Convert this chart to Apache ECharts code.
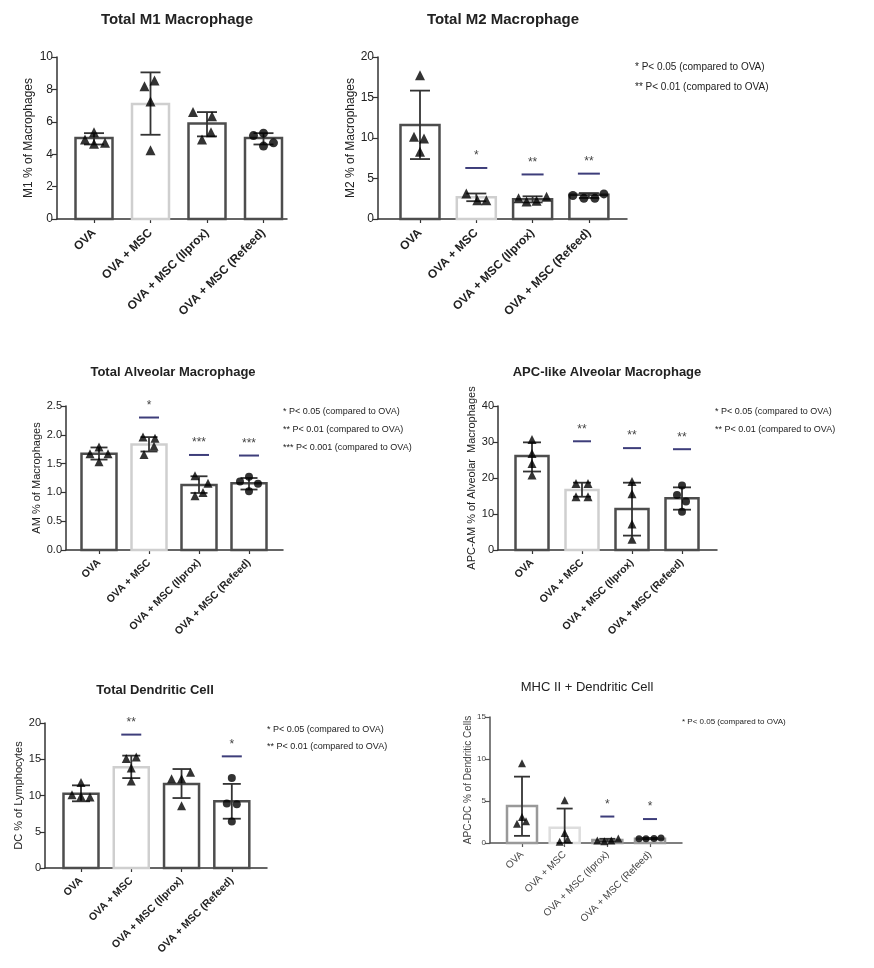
<!DOCTYPE html>
<html><head><meta charset="utf-8">
<script src="https://cdn.jsdelivr.net/npm/echarts@6/dist/echarts.min.js"></script>
<style>html,body{margin:0;padding:0;background:#fff}#c{width:874px;height:968px}</style>
</head><body><div id="c"></div>
<script>
// ---------------- DATA ----------------
const categories = ['OVA', 'OVA + MSC', 'OVA + MSC (Ilprox)', 'OVA + MSC (Refeed)'];

// Panel 1: Total M1 Macrophage
const m1Title = 'Total M1 Macrophage';
const m1YName = 'M1 % of Macrophages';
const m1Ticks = [0, 2, 4, 6, 8, 10];
const m1Bar = [5.0, 7.1, 5.9, 5.0];
const m1Low = [4.6, 5.2, 5.1, 4.6];
const m1High = [5.3, 9.05, 6.6, 5.3];
const m1Points = [[5.35, 4.9, 4.65, 4.7], [8.55, 8.2, 7.25, 4.25], [6.6, 6.35, 5.35, 4.9], [5.15, 5.3, 4.7, 4.5]];
const m1Sig = [null, null, null, null];
const m1SigText = ['', '', '', ''];
const m1Notes = [];

// Panel 2: Total M2 Macrophage
const m2Title = 'Total M2 Macrophage';
const m2YName = 'M2 % of Macrophages';
const m2Ticks = [0, 5, 10, 15, 20];
const m2Bar = [11.6, 2.7, 2.45, 3.0];
const m2Low = [7.4, 2.2, 2.05, 2.6];
const m2High = [15.85, 3.15, 2.8, 3.2];
const m2Points = [[17.75, 10.15, 9.95, 8.3], [3.15, 2.3, 2.3], [2.55, 2.15, 2.25, 2.75], [2.9, 2.55, 2.55, 3.1]];
const m2Sig = [null, 6.3, 5.5, 5.6];
const m2SigText = ['', '*', '**', '**'];
const m2Notes = ['* P< 0.05 (compared to OVA)', '** P< 0.01 (compared to OVA)'];

// Panel 3: Total Alveolar Macrophage
const amTitle = 'Total Alveolar Macrophage';
const amYName = 'AM % of Macrophages';
const amTicks = [0, 0.5, 1.0, 1.5, 2.0, 2.5];
const amBar = [1.67, 1.83, 1.13, 1.16];
const amLow = [1.57, 1.71, 0.99, 1.05];
const amHigh = [1.78, 1.96, 1.28, 1.25];
const amPoints = [[1.79, 1.67, 1.67, 1.53], [1.96, 1.94, 1.8, 1.66], [1.29, 1.16, 1.0, 0.94], [1.19, 1.27, 1.15, 1.02]];
const amSig = [null, 2.3, 1.65, 1.64];
const amSigText = ['', '*', '***', '***'];
const amNotes = ['* P< 0.05 (compared to OVA)', '** P< 0.01 (compared to OVA)', '*** P< 0.001 (compared to OVA)'];

// Panel 4: APC-like Alveolar Macrophage
const apcTitle = 'APC-like Alveolar Macrophage';
const apcYName = 'APC-AM % of Alveolar  Macrophages';
const apcTicks = [0, 10, 20, 30, 40];
const apcBar = [26.1, 16.7, 11.4, 14.4];
const apcLow = [21.8, 14.8, 4.0, 11.2];
const apcHigh = [29.9, 18.7, 18.7, 17.4];
const apcPoints = [[30.7, 26.8, 24.0, 20.8], [18.5, 18.5, 14.8, 14.8], [19.0, 15.6, 7.2, 3.0], [17.9, 15.3, 13.5, 10.6]];
const apcSig = [null, 30.2, 28.3, 28.0];
const apcSigText = ['', '**', '**', '**'];
const apcNotes = ['* P< 0.05 (compared to OVA)', '** P< 0.01 (compared to OVA)'];

// Panel 5: Total Dendritic Cell
const dcTitle = 'Total Dendritic Cell';
const dcYName = 'DC % of Lymphocytes';
const dcTicks = [0, 5, 10, 15, 20];
const dcBar = [10.25, 13.9, 11.6, 9.2];
const dcLow = [9.2, 12.4, 9.65, 6.8];
const dcHigh = [11.4, 15.5, 13.65, 11.6];
const dcPoints = [[11.8, 10.1, 9.9, 9.8], [15.1, 15.3, 13.8, 12.0], [12.3, 12.3, 13.2, 8.6], [12.4, 8.9, 8.8, 6.4]];
const dcSig = [null, 18.4, null, 15.4];
const dcSigText = ['', '**', '', '*'];
const dcNotes = ['* P< 0.05 (compared to OVA)', '** P< 0.01 (compared to OVA)'];

// Panel 6: MHC II + Dendritic Cell
const mhcTitle = 'MHC II + Dendritic Cell';
const mhcYName = 'APC-DC % of Dendritic Cells';
const mhcTicks = [0, 5, 10, 15];
const mhcBar = [4.4, 1.83, 0.35, 0.5];
const mhcLow = [0.85, 0, 0.2, 0.45];
const mhcHigh = [7.9, 4.1, 0.5, 0.6];
const mhcPoints = [[9.5, 3.1, 2.3, 2.6], [5.1, 1.2, 0.15, 0.45], [0.3, 0.2, 0.3, 0.55], [0.5, 0.5, 0.55, 0.6]];
const mhcSig = [null, null, 3.15, 2.85];
const mhcSigText = ['', '', '*', '*'];
const mhcNotes = ['* P< 0.05 (compared to OVA)'];

// ---------------- LAYOUT / STYLE ----------------
const FONT = 'Liberation Sans, Arial, sans-serif';
const DARK = '#4d4d4d', LIGHT = '#cfcfcf';
const panels = [
  { d: {title: m1Title, yName: m1YName, ticks: m1Ticks, bar: m1Bar, low: m1Low, high: m1High, pts: m1Points, sig: m1Sig, sigText: m1SigText, notes: m1Notes},
    L: {left: 57, top: 57, width: 230, height: 162, xMin: -0.655, xMax: 3.416, barW: 37, capW: 20, sigW: 22, sym: 10,
        titleX: 177, titleY: 20, titleSize: 15, titleWeight: 'bold', nameGap: 22, nameSize: 12, tickSize: 12, xFont: 12, xWeight: 'bold', xMargin: 12,
        jitter: [[0, -9, 0, 11], [4, -6, 0, 0], [-14, 5, 4, -5], [-10, 0, 10, 0]], dec: 0,
        barColors: [DARK, LIGHT, DARK, DARK], axis: '#333', text: '#222', notesX: 0, notesY: [], noteSize: 10 } },
  { d: {title: m2Title, yName: m2YName, ticks: m2Ticks, bar: m2Bar, low: m2Low, high: m2High, pts: m2Points, sig: m2Sig, sigText: m2SigText, notes: m2Notes},
    L: {left: 378, top: 57, width: 249, height: 162, xMin: -0.746, xMax: 3.677, barW: 39, capW: 20, sigW: 22, sym: 10,
        titleX: 503, titleY: 20, titleSize: 15, titleWeight: 'bold', nameGap: 18, nameSize: 12, tickSize: 12, xFont: 12, xWeight: 'bold', xMargin: 12,
        jitter: [[0, -6, 4, 0], [-10, 1, 10], [-14, -6, 4, 14], [-16, -5, 6, 15]], dec: 0,
        barColors: [DARK, LIGHT, DARK, DARK], axis: '#333', text: '#222', notesX: 635, notesY: [67, 87], noteSize: 10 } },
  { d: {title: amTitle, yName: amYName, ticks: amTicks, bar: amBar, low: amLow, high: amHigh, pts: amPoints, sig: amSig, sigText: amSigText, notes: amNotes},
    L: {left: 66, top: 406, width: 217, height: 144, xMin: -0.66, xMax: 3.68, barW: 35, capW: 17, sigW: 20, sym: 9,
        titleX: 173, titleY: 372, titleSize: 13, titleWeight: 'bold', nameGap: 22, nameSize: 11, tickSize: 11, xFont: 10.5, xWeight: 'bold', xMargin: 11,
        jitter: [[0, -9, 9, 0], [-6, 6, 5, -5], [-4, 9, 4, -4], [-9, 0, 9, 0]], dec: 1,
        barColors: [DARK, LIGHT, DARK, DARK], axis: '#333', text: '#222', notesX: 283, notesY: [412, 430, 448], noteSize: 9 } },
  { d: {title: apcTitle, yName: apcYName, ticks: apcTicks, bar: apcBar, low: apcLow, high: apcHigh, pts: apcPoints, sig: apcSig, sigText: apcSigText, notes: apcNotes},
    L: {left: 498, top: 406, width: 219, height: 144, xMin: -0.68, xMax: 3.7, barW: 33, capW: 18, sigW: 18, sym: 9,
        titleX: 607, titleY: 372, titleSize: 13, titleWeight: 'bold', nameGap: 19, nameSize: 11, tickSize: 11, xFont: 10.5, xWeight: 'bold', xMargin: 11,
        jitter: [[0, 0, 0, 0], [-6, 6, -6, 6], [0, 0, 0, 0], [0, -5, 4, 0]], dec: 0,
        barColors: [DARK, LIGHT, DARK, DARK], axis: '#333', text: '#222', notesX: 715, notesY: [412, 430], noteSize: 9 } },
  { d: {title: dcTitle, yName: dcYName, ticks: dcTicks, bar: dcBar, low: dcLow, high: dcHigh, pts: dcPoints, sig: dcSig, sigText: dcSigText, notes: dcNotes},
    L: {left: 45, top: 723, width: 222, height: 145, xMin: -0.716, xMax: 3.7, barW: 35, capW: 18, sigW: 20, sym: 9,
        titleX: 155, titleY: 690, titleSize: 13, titleWeight: 'bold', nameGap: 19, nameSize: 11, tickSize: 11, xFont: 10.5, xWeight: 'bold', xMargin: 11,
        jitter: [[0, -9, 0, 9], [-5, 5, 0, 0], [-10, 0, 9, 0], [0, -5, 5, 0]], dec: 0,
        barColors: [DARK, LIGHT, DARK, DARK], axis: '#333', text: '#222', notesX: 267, notesY: [730, 747], noteSize: 9 } },
  { d: {title: mhcTitle, yName: mhcYName, ticks: mhcTicks, bar: mhcBar, low: mhcLow, high: mhcHigh, pts: mhcPoints, sig: mhcSig, sigText: mhcSigText, notes: mhcNotes},
    L: {left: 490, top: 717, width: 192, height: 126, xMin: -0.75, xMax: 3.75, barW: 30, capW: 16, sigW: 14, sym: 8,
        titleX: 587, titleY: 687, titleSize: 13, titleWeight: 'normal', nameGap: 17, nameSize: 10, tickSize: 8, xFont: 10, xWeight: 'normal', xMargin: 10,
        jitter: [[0, 0, -5, 4], [0, 0, -5, 3], [-10, -3, 4, 11], [-11, -4, 4, 11]], dec: 0,
        barColors: ['#999', '#ddd', '#999', '#999'], axis: '#555', text: '#444', notesX: 682, notesY: [722], noteSize: 8 } }
];

// ---------------- BUILD ----------------
const grids = [], xAxes = [], yAxes = [], series = [], graphics = [];
panels.forEach(({d, L}, i) => {
  grids.push({left: L.left, top: L.top, width: L.width, height: L.height});
  xAxes.push({
    type: 'value', gridIndex: i, min: L.xMin, max: L.xMax,
    axisLine: {show: true, onZero: false, lineStyle: {color: L.axis, width: 1.5}},
    axisTick: {show: true, customValues: [0, 1, 2, 3], length: 4, lineStyle: {color: L.axis, width: 1.2}},
    axisLabel: {show: true, customValues: [0, 1, 2, 3], formatter: v => categories[Math.round(v)] || '', rotate: 45,
      fontSize: L.xFont, fontWeight: L.xWeight, color: L.text, fontFamily: FONT, margin: L.xMargin},
    splitLine: {show: false}
  });
  const tk = d.ticks;
  yAxes.push({
    type: 'value', gridIndex: i, min: tk[0], max: tk[tk.length - 1], interval: tk[1] - tk[0],
    name: d.yName, nameLocation: 'middle', nameGap: L.nameGap,
    nameTextStyle: {fontSize: L.nameSize, color: L.text, fontFamily: FONT},
    axisLine: {show: true, onZero: false, lineStyle: {color: L.axis, width: 1.5}},
    axisTick: {show: true, length: 5, lineStyle: {color: L.axis, width: 1.2}},
    axisLabel: {fontSize: L.tickSize, color: L.text, fontFamily: FONT, margin: 4, formatter: v => v.toFixed(L.dec)},
    splitLine: {show: false}
  });
  // bars
  series.push({
    type: 'custom', xAxisIndex: i, yAxisIndex: i, encode: {x: 0, y: 1}, z: 2,
    data: d.bar.map((v, k) => [k, v]),
    renderItem: (p, api) => {
      const x = api.value(0), v = api.value(1);
      const p0 = api.coord([x, 0]), p1 = api.coord([x, v]);
      return {type: 'rect', shape: {x: p0[0] - L.barW / 2, y: p1[1], width: L.barW, height: p0[1] - p1[1]},
        style: {fill: '#fff', stroke: L.barColors[x], lineWidth: 2.5}};
    }
  });
  // error bars
  series.push({
    type: 'custom', xAxisIndex: i, yAxisIndex: i, encode: {x: 0, y: [1, 2]}, z: 4,
    data: d.low.map((v, k) => [k, v, d.high[k]]),
    renderItem: (p, api) => {
      const x = api.value(0);
      const a = api.coord([x, api.value(1)]), b = api.coord([x, api.value(2)]);
      const st = {stroke: '#333', lineWidth: 1.8};
      return {type: 'group', children: [
        {type: 'line', shape: {x1: a[0], y1: a[1], x2: b[0], y2: b[1]}, style: st},
        {type: 'line', shape: {x1: a[0] - L.capW / 2, y1: a[1], x2: a[0] + L.capW / 2, y2: a[1]}, style: st},
        {type: 'line', shape: {x1: b[0] - L.capW / 2, y1: b[1], x2: b[0] + L.capW / 2, y2: b[1]}, style: st}
      ]};
    }
  });
  // points
  const pts = [];
  d.pts.forEach((arr, k) => arr.forEach((v, j) => pts.push({
    value: [k, v], symbol: k === 3 ? 'circle' : 'triangle',
    symbolSize: k === 3 ? L.sym - 1 : L.sym, symbolOffset: [L.jitter[k][j] || 0, 0]
  })));
  series.push({type: 'scatter', xAxisIndex: i, yAxisIndex: i, z: 5, data: pts,
    itemStyle: {color: '#000'}, silent: true});
  // significance lines
  const sig = [];
  d.sig.forEach((v, k) => { if (v != null) sig.push([k, v, k]); });
  series.push({
    type: 'custom', xAxisIndex: i, yAxisIndex: i, encode: {x: 0, y: 1}, z: 6,
    data: sig,
    renderItem: (p, api) => {
      const k = api.value(0);
      const c = api.coord([k, api.value(1)]);
      return {type: 'group', children: [
        {type: 'line', shape: {x1: c[0] - L.sigW / 2, y1: c[1], x2: c[0] + L.sigW / 2, y2: c[1]},
          style: {stroke: '#3d3d7a', lineWidth: 2}},
        {type: 'text', x: c[0], y: c[1] - 12,
          style: {text: d.sigText[k], fontSize: 12, fontFamily: FONT, fill: '#444', align: 'center', verticalAlign: 'middle'}}
      ]};
    }
  });
  // title and notes
  graphics.push({type: 'text', x: L.titleX, y: L.titleY,
    style: {text: d.title, fontSize: L.titleSize, fontWeight: L.titleWeight, fontFamily: FONT, fill: '#222', align: 'center', verticalAlign: 'middle'}});
  d.notes.forEach((t, j) => graphics.push({type: 'text', x: L.notesX, y: L.notesY[j],
    style: {text: t, fontSize: L.noteSize, fontFamily: FONT, fill: '#222', align: 'left', verticalAlign: 'middle'}}));
});

const chart = echarts.init(document.getElementById('c'), null, {renderer: 'canvas'});
chart.setOption({
  backgroundColor: '#fff',
  animation: false,
  grid: grids, xAxis: xAxes, yAxis: yAxes, series: series, graphic: graphics
});
</script></body></html>
